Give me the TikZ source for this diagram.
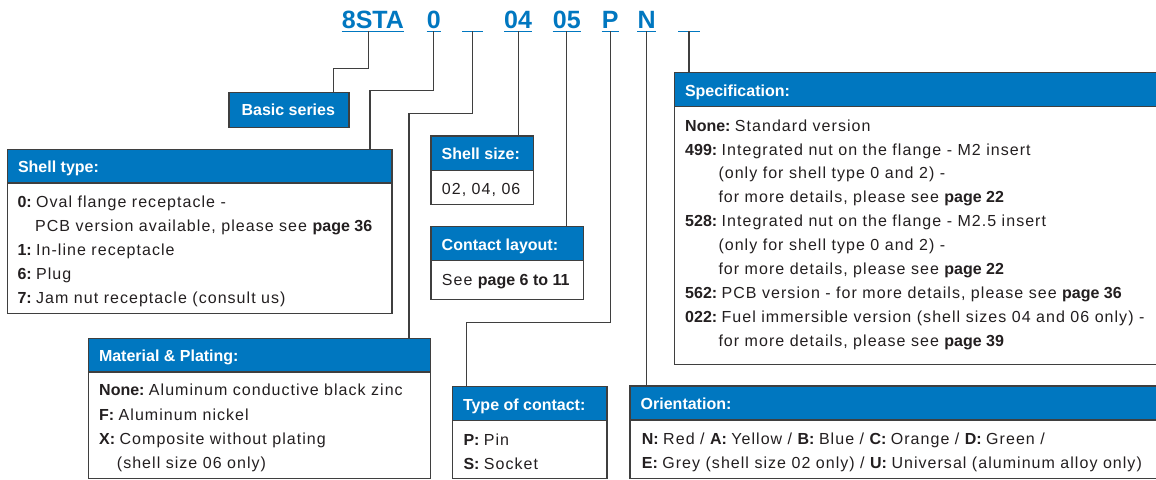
\documentclass[tikz,border=0pt]{standalone}
\usepackage{fontspec}
\setmainfont{Liberation Sans}
\newfontfamily\lsfont{Liberation Sans}[LetterSpace=6.5]
\usetikzlibrary{calc}
\definecolor{hblue}{HTML}{0077C0}
\definecolor{bgray}{HTML}{3F3F3F}
\definecolor{tgray}{HTML}{231F20}
\newcommand\B[1]{{\normalfont\bfseries #1}}
\newcommand\Lbl[1]{{\normalfont\bfseries #1\ }}
\tikzset{
 boxfill/.style={fill=white, rectangle, inner sep=0pt, anchor=north west},
 hdr/.style={fill=hblue, rectangle, inner sep=0pt, anchor=north west},
 frame/.style={draw=bgray, line width=1.4pt},
 htxt/.style={anchor=base west, inner sep=0pt, text=white, font=\normalfont\fontsize{16}{19}\selectfont\bfseries},
 btxt/.style={anchor=base west, inner sep=0pt, text=tgray, font=\lsfont\fontsize{16}{19}\selectfont},
 code/.style={anchor=base west, inner xsep=0pt, inner ysep=2.7pt, text depth=0pt, text=hblue, font=\normalfont\fontsize{25}{30}\selectfont\bfseries},
 uline/.style={draw=hblue, line width=1pt},
 conn/.style={draw=bgray, line width=1.2pt},
}
\newcommand\infobox[7]{%
 \node[boxfill, minimum width=#4pt, minimum height=#5pt] (#1) at (#2,#3) {};
 \node[hdr, minimum width=#4pt, minimum height=#6pt] (#1h) at (#2,#3) {};
 \draw[frame] (#1h.south west) -- (#1h.south east);
 \draw[frame] (#1.north west) rectangle (#1.south east);
 \node[htxt] (#1t) at ($(#2,#3)+(10.5,23.3)$) {#7};
}
\newcommand\bl[4]{\node[btxt] (#1) at (#2,#3) {#4};}
\begin{document}
\begin{tikzpicture}[x=1pt,y=-1pt]
\clip (0,0) rectangle (1156,479);
\fill[white] (0,0) rectangle (1156,479);
% codes
\node[code] (c1) at (341.7,28.3) {8STA};
\node[code] (c2) at (426.7,28.3) {0};
\node[code, minimum width=21pt] (c3) at (462,28.3) {};
\node[code] (c4) at (504,28.3) {04};
\node[code] (c5) at (552.7,28.3) {05};
\node[code] (c6) at (601.7,28.3) {P};
\node[code] (c7) at (637.3,28.3) {N};
\node[code, minimum width=21pt] (c8) at (678.3,28.3) {};
\foreach \c in {c1,c2,c3,c4,c5,c6,c7,c8}{\draw[uline] (\c.south west) -- (\c.south east);}
% boxes
\node[hdr, draw=bgray, line width=1.4pt, minimum width=120pt, minimum height=35pt] (bs) at (228.3,91.7) {};
\node[htxt, anchor=base] (bst) at (288.3,115) {Basic series};

\infobox{st}{7.3}{149.3}{384.4}{164}{33.4}{Shell type:}
\bl{st1}{17.3}{207.5}{\Lbl{0:}Oval flange receptacle -}
\bl{st2}{35}{231.4}{PCB version available, please see \B{page 36}}
\bl{st3}{17.3}{255.3}{\Lbl{1:}In-line receptacle}
\bl{st4}{17.3}{279.2}{\Lbl{6:}Plug}
\bl{st5}{17.3}{303.1}{\Lbl{7:}Jam nut receptacle (consult us)}

\infobox{ss}{431}{136}{102.3}{68}{34}{Shell size:}
\bl{ss1}{441.7}{194.3}{02, 04, 06}

\infobox{cl}{431}{226.7}{152.3}{72.6}{33.3}{Contact layout:}
\bl{cl1}{441.7}{285}{See \B{page 6 to 11}}

\infobox{mp}{88.3}{338.3}{341.7}{140}{33.4}{Material \& Plating:}
\bl{mp1}{99}{395.7}{\Lbl{None:}Aluminum conductive black zinc}
\bl{mp2}{99}{420}{\Lbl{F:}Aluminum nickel}
\bl{mp3}{99}{444.3}{\Lbl{X:}Composite without plating}
\bl{mp4}{116.7}{468.3}{(shell size 06 only)}

\infobox{tc}{452.3}{386.7}{154.4}{91.6}{33.3}{Type of contact:}
\bl{tc1}{463.3}{445}{\Lbl{P:}Pin}
\bl{tc2}{463.3}{469.3}{\Lbl{S:}Socket}

\infobox{or}{630}{386}{540}{92.3}{33.5}{Orientation:}
\bl{or1}{641.7}{444.5}{\Lbl{N:}Red / \Lbl{A:}Yellow / \Lbl{B:}Blue / \Lbl{C:}Orange / \Lbl{D:}Green /}
\bl{or2}{641.7}{468.5}{\Lbl{E:}Grey (shell size 02 only) / \Lbl{U:}Universal (aluminum alloy only)}

\infobox{sp}{674.3}{72.7}{500}{291.6}{33.3}{Specification:}
\bl{sp1}{685}{131}{\Lbl{None:}Standard version}
\bl{sp2}{685}{155}{\Lbl{499:}Integrated nut on the flange - M2 insert}
\bl{sp3}{718.3}{178.9}{(only for shell type 0 and 2) -}
\bl{sp4}{718.3}{202.9}{for more details, please see \B{page 22}}
\bl{sp5}{685}{226.8}{\Lbl{528:}Integrated nut on the flange - M2.5 insert}
\bl{sp6}{718.3}{250.8}{(only for shell type 0 and 2) -}
\bl{sp7}{718.3}{274.7}{for more details, please see \B{page 22}}
\bl{sp8}{685}{298.7}{\Lbl{562:}PCB version - for more details, please see \B{page 36}}
\bl{sp9}{685}{322.6}{\Lbl{022:}Fuel immersible version (shell sizes 04 and 06 only) -}
\bl{sp10}{718.3}{346.6}{for more details, please see \B{page 39}}

% connectors
\coordinate (k1) at (333.3,68.3);
\draw[conn] ([xshift=-4.3pt]c1.south) |- (k1) -- (k1 |- bs.north);
\coordinate (k2) at (370,90.7);
\draw[conn] (c2.south) |- (k2) -- (k2 |- st.north);
\coordinate (k3) at (409,113.3);
\draw[conn] (c3.south) |- (k3) -- (k3 |- mp.north);
\draw[conn] (c4.south) -- (c4.south |- ss.north);
\draw[conn] (c5.south) -- (c5.south |- cl.north);
\coordinate (k6) at (466.7,322.3);
\draw[conn] (c6.south) |- (k6) -- (k6 |- tc.north);
\draw[conn] (c7.south) -- (c7.south |- or.north);
\draw[conn] (c8.south) -- (c8.south |- sp.north);
\end{tikzpicture}
\end{document}
